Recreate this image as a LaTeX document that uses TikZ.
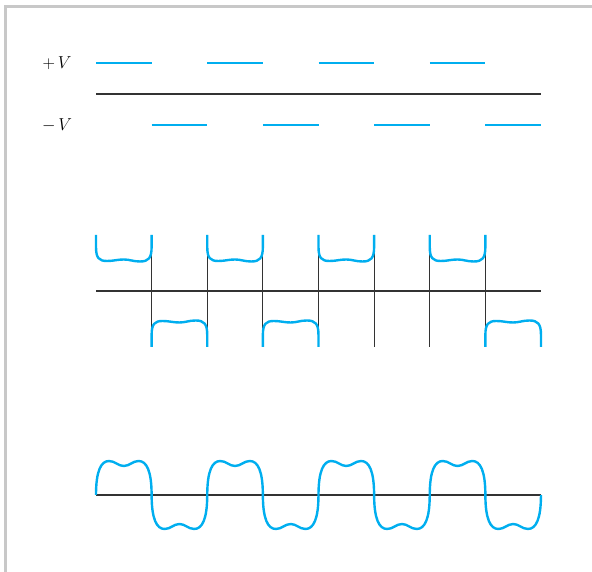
\documentclass[tikz,border=0pt]{standalone}
\usetikzlibrary{positioning}
\definecolor{sigblue}{HTML}{00AEEF}
\definecolor{framegray}{HTML}{C8C8C8}
\tikzset{
  signal/.style={sigblue, line width=2.4pt},
  axis/.style={black!80, line width=1.2pt},
  lvl/.style={font=\fontsize{17}{20}\selectfont, inner sep=0pt},
  hpulse/.pic={\draw[signal] (0,56) -- (0,44) .. controls (0,33) and (3,30) .. (11,30)
      .. controls (18,30) and (21,31.5) .. (27.8,31.5) .. controls (34,31.5) and (37,29.5) .. (44,29.5)
      .. controls (52.6,29.5) and (55.6,33) .. (55.6,44) -- (55.6,56);},
  wlobe/.pic={\draw[signal] (0,0) .. controls (0,24) and (5,34) .. (13,34)
      .. controls (19,34) and (22,29) .. (27.8,29) .. controls (33.6,29) and (36.6,34) .. (42.6,34)
      .. controls (50.6,34) and (55.6,24) .. (55.6,0);},
}

\begin{document}
\begin{tikzpicture}[x=1pt, y=1pt]
    \useasboundingbox (0,0) rectangle (592,572);
    \draw[framegray, line width=2.5pt] (5.3,0) -- (5.3,565.7) -- (592,565.7);

    % levels
    \node[lvl] (plusv) at (57,509) {$+\,V$};
    \node[lvl] (minusv) at (57,447) {$-\,V$};
    \draw[axis] (96,478) -- (541,478);
    \foreach \k in {0,2,4,6} {
        \draw[signal] (96+\k*55.625,509) -- ++(55.625,0);
        \draw[signal] (151.625+\k*55.625,447) -- ++(55.625,0);
    }

    % pulses
    \draw[axis] (96,281) -- (541,281);
    \foreach \k in {1,...,7}
        \draw[axis] (96+\k*55.625,337) -- ++(0,-112);
    \foreach \k in {0,2,4,6}
        \pic at (96+\k*55.625,281) {hpulse};
    \foreach \k in {1,3,7}
        \pic[yscale=-1] at (96+\k*55.625,281) {hpulse};

    % wave
    \draw[axis] (96,77) -- (541,77);
    \foreach \k in {0,2,4,6} {
        \pic at (96+\k*55.625,77) {wlobe};
        \pic[yscale=-1] at (151.625+\k*55.625,77) {wlobe};
    }
\end{tikzpicture}
\end{document}
